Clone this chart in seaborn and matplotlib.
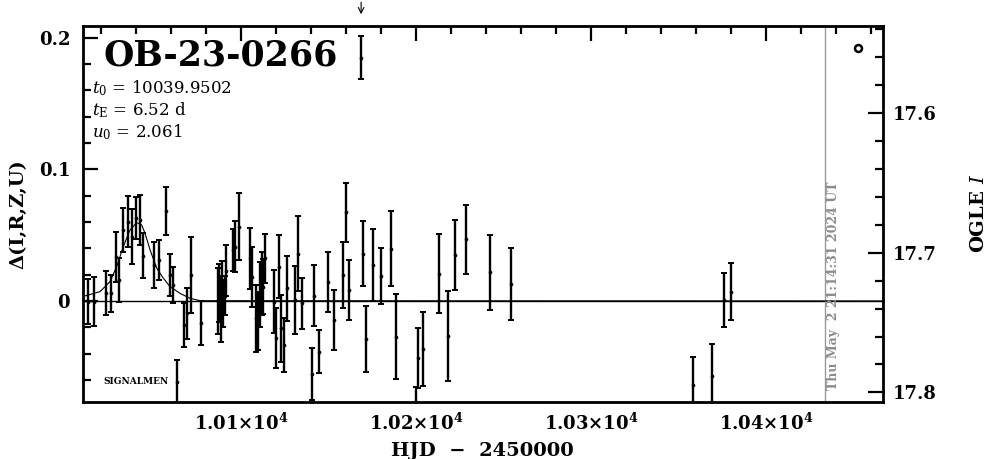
#light curve of OB-23-0266 (delta mag vs HJD) with the OGLE I scale on the right
import matplotlib
matplotlib.use('Agg')
import matplotlib.pyplot as plt
import seaborn as sns
import pandas as pd
from matplotlib.ticker import MultipleLocator, FixedLocator, FixedFormatter

sns.set_style('white')
plt.rcParams['font.family'] = ['DejaVu Serif']
plt.rcParams['mathtext.fontset'] = 'dejavuserif'
for k in ['text.color', 'axes.labelcolor', 'xtick.color', 'ytick.color', 'axes.edgecolor']:
    plt.rcParams[k] = 'black'

# photometry: HJD-2450000, delta mag, error
hjd = [10012.6, 10015.9, 10022.6, 10025.4, 10028.3, 10030.2, 10032.3, 10035.1,
       10037.4, 10039.9, 10042.2, 10044.1, 10050.2, 10053.1, 10057.0, 10059.0,
       10061.2, 10063.1, 10067.5, 10068.9, 10071.1, 10076.8,
       10086.5, 10087.3, 10088.2, 10089.0, 10089.8, 10090.5, 10091.2,
       10095.1, 10096.5, 10098.7,
       10105.0, 10105.9, 10108.3, 10109.8, 10110.7, 10111.7, 10112.6, 10113.5,
       10118.7, 10119.7, 10121.6, 10122.7, 10124.6, 10125.9, 10130.7, 10132.6,
       10134.9, 10140.2, 10141.7, 10144.4, 10149.8, 10153.2, 10158.4, 10159.7,
       10161.6, 10168.5, 10169.8, 10171.3, 10175.5, 10179.7, 10185.4, 10188.5,
       10199.7, 10201.2, 10204.1, 10213.2, 10218.4, 10222.4, 10228.3, 10242.2,
       10254.2,
       10358.0, 10368.8, 10376.1, 10380.0]
dmag = [-0.0005, -0.0005, 0.0058, 0.0058, 0.0332, 0.0160, 0.0540, 0.0602,
        0.0488, 0.0628, 0.0615, 0.0342, 0.0273, 0.0311, 0.0683, 0.0197,
        0.0121, -0.0613, -0.0182, -0.0094, 0.0197, -0.0169,
        0.0000, 0.0060, -0.0060, 0.0100, -0.0020, 0.0040, 0.0230,
        0.0387, 0.0413, 0.0564,
        0.0324, 0.0185, -0.0132, -0.0154, 0.0046, 0.0134, 0.0109, 0.0324,
        -0.0005, -0.0283, 0.0260, -0.0207, -0.0334, 0.0096, 0.0008, 0.0357,
        -0.0018, -0.0554, 0.0041, -0.0385, 0.0142, -0.0144, 0.0197, 0.0673,
        0.0084, 0.1847, 0.0357, -0.0289, 0.0273, 0.0190, 0.0397, -0.0271,
        -0.0856, -0.0435, -0.0367, 0.0205, -0.0266, 0.0347, 0.0468, 0.0218,
        0.0129,
        -0.0638, -0.0567, 0.0008, 0.0071]
dmag_err = [0.0171, 0.0184, 0.0167, 0.0138, 0.0190, 0.0165, 0.0165, 0.0196,
            0.0209, 0.0158, 0.0190, 0.0171, 0.0177, 0.0152, 0.0180, 0.0162,
            0.0139, 0.0165, 0.0165, 0.0196, 0.0289, 0.0165,
            0.0250, 0.0220, 0.0250, 0.0200, 0.0180, 0.0150, 0.0196,
            0.0158, 0.0196, 0.0253,
            0.0232, 0.0228, 0.0256, 0.0220, 0.0247, 0.0240, 0.0209, 0.0184,
            0.0240, 0.0228, 0.0240, 0.0253, 0.0203, 0.0247, 0.0260, 0.0285,
            0.0196, 0.0200, 0.0234, 0.0165, 0.0228, 0.0228, 0.0247, 0.0222,
            0.0228, 0.0165, 0.0247, 0.0250, 0.0275, 0.0215, 0.0285, 0.0324,
            0.0200, 0.0228, 0.0280, 0.0300, 0.0338, 0.0267, 0.0264, 0.0285,
            0.0270,
            0.0210, 0.0240, 0.0203, 0.0215]

# fitted curve
model_hjd = [10007.9, 10019.3, 10025.0, 10028.8, 10032.6, 10036.4, 10040.3,
             10043.1, 10045.0, 10047.9, 10051.7, 10055.5, 10059.3, 10065.0,
             10070.7, 10076.5, 10467.0]
model_dmag = [0.0028, 0.0071, 0.0147, 0.0261, 0.0413, 0.0539, 0.0595,
              0.0577, 0.0514, 0.0387, 0.0248, 0.0172, 0.0109, 0.0058,
              0.0020, 0.0002, 0.0]

xticks = [10100, 10200, 10300, 10400]
xtick_labels = [r'$\mathbf{1.01{\times}10^{4}}$', r'$\mathbf{1.02{\times}10^{4}}$',
                r'$\mathbf{1.03{\times}10^{4}}$', r'$\mathbf{1.04{\times}10^{4}}$']
yticks = [0, 0.1, 0.2]
ytick_labels = ['0', '0.1', '0.2']
magticks = [17.6, 17.7, 17.8]
magtick_labels = ['17.6', '17.7', '17.8']

event = 'OB-23-0266'
params = [r'$t_0$ = 10039.9502', r'$t_{\rm E}$ = 6.52 d', r'$u_0$ = 2.061']
now_hjd = 10433.4
now_text = 'Thu May  2 21:14:31 2024 UT'
base_hjd = 10452.5
base_mag = 17.553
outlier_hjd = 10168.5

df = pd.DataFrame({'hjd': hjd, 'dmag': dmag, 'err': dmag_err})
mdf = pd.DataFrame({'hjd': model_hjd, 'dmag': model_dmag})

fig = plt.figure(figsize=(9.86, 4.59), dpi=100)
ax = fig.add_axes([0.0839, 0.1248, 0.8116, 0.8186])

ax.axhline(0, color='black', lw=1.0, zorder=1)
sns.lineplot(data=mdf, x='hjd', y='dmag', ax=ax, color='black', lw=0.8,
             sort=False, estimator=None, zorder=2)
ax.errorbar(df['hjd'], df['dmag'], yerr=df['err'], fmt='none', ecolor='black',
            elinewidth=1.7, capsize=2, capthick=1.4, zorder=3)
sns.scatterplot(data=df, x='hjd', y='dmag', ax=ax, color='black', s=7,
                marker='o', linewidth=0, zorder=4)
ax.axvline(now_hjd, color='#9a9a9a', lw=1.0, zorder=1)

ax.set_xlim(10009.4, 10466.7)
ax.set_ylim(-0.0765, 0.2088)
ax.xaxis.set_major_locator(FixedLocator(xticks))
ax.xaxis.set_major_formatter(FixedFormatter(xtick_labels))
ax.xaxis.set_minor_locator(MultipleLocator(20))
ax.yaxis.set_major_locator(FixedLocator(yticks))
ax.yaxis.set_major_formatter(FixedFormatter(ytick_labels))
ax.yaxis.set_minor_locator(MultipleLocator(0.02))
ax.tick_params(which='major', direction='in', length=11, width=1.6,
               top=True, right=False, labelsize=13)
ax.tick_params(which='minor', direction='in', length=5.5, width=1.6,
               top=True, right=False)
ax.tick_params(axis='x', pad=8)
ax.tick_params(axis='y', pad=9)
for lab in ax.get_yticklabels():
    lab.set_fontweight('bold')
for sp in ax.spines.values():
    sp.set_linewidth(2)
ax.set_xlabel('HJD  \u2212  2450000', fontsize=14, fontweight='bold', labelpad=6)
ax.set_ylabel('\u0394(I,R,Z,U)', fontsize=14, fontweight='bold', labelpad=8)

ax2 = ax.twinx()
ax2.plot([base_hjd], [base_mag], marker='o', ms=5, mfc='white', mec='black',
         mew=1.8, ls='none')
ax2.set_ylim(17.8067, 17.5375)
ax2.yaxis.set_major_locator(FixedLocator(magticks))
ax2.yaxis.set_major_formatter(FixedFormatter(magtick_labels))
ax2.yaxis.set_minor_locator(MultipleLocator(0.02))
ax2.tick_params(which='major', direction='in', length=11, width=1.6,
                labelsize=13, pad=7)
ax2.tick_params(which='minor', direction='in', length=5.5, width=1.6)
for lab in ax2.get_yticklabels():
    lab.set_fontweight('bold')
ax2.set_ylabel(r'OGLE $I$', fontsize=14, fontweight='bold', labelpad=24)

ax.text(0.0258, 0.896, event, transform=ax.transAxes, fontsize=25,
        fontweight='bold', va='baseline', ha='left')
for i, p in enumerate(params):
    ax.text(0.0112, 0.821 - i * 0.058, p, transform=ax.transAxes, fontsize=12,
            va='baseline', ha='left')
ax.text(0.0257, 0.047, 'SIGNALMEN', transform=ax.transAxes, fontsize=6.5,
        fontweight='bold', va='baseline', ha='left')
ax.text(now_hjd + 1.5, -0.0675, now_text, rotation=90, color='#8c8c8c',
        fontsize=9, fontweight='bold', ha='left', va='bottom')
ax.annotate('', xy=(outlier_hjd, 0.2156), xytext=(outlier_hjd, 0.2290),
            arrowprops=dict(arrowstyle='->', color='black', lw=0.8),
            annotation_clip=False)

plt.savefig('out.png', dpi=100)
